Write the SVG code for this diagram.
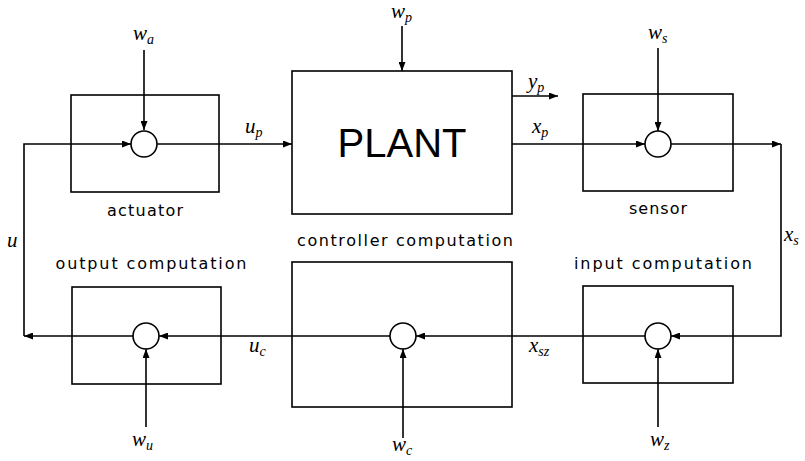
<svg xmlns="http://www.w3.org/2000/svg" width="805" height="461" viewBox="0 0 805 461">
<defs>
<marker id="ah" markerWidth="9" markerHeight="7" refX="9" refY="3.5" orient="auto" markerUnits="userSpaceOnUse">
<path d="M0,0 L9,3.5 L0,7 z" fill="#000"/>
</marker>
<style>
.box{fill:none;stroke:#000;stroke-width:1.6}
.sum{fill:#fff;stroke:#000;stroke-width:1.6}
.c{fill:none;stroke:#000;stroke-width:1.6;marker-end:url(#ah)}
.lbl{font-family:"DejaVu Sans",sans-serif;font-size:16px;fill:#000;text-anchor:middle}
.m{font-family:"Liberation Serif",serif;font-style:italic;font-size:21px;fill:#000}
.s{font-size:14px}
</style>
</defs>
<rect width="805" height="461" fill="#fff"/>
<g id="connectors">
<path class="c" d="M144,50 V130"/>
<path class="c" d="M133,336 H24"/>
<path class="c" d="M24,336 V144 H131"/>
<path class="c" d="M157,144 H292"/>
<path class="c" d="M402,26 V71"/>
<path class="c" d="M512,96 H558"/>
<path class="c" d="M512,144 H645"/>
<path class="c" d="M658,48 V131"/>
<path class="c" d="M671,144 H781"/>
<path class="c" d="M781,144 V336 H671"/>
<path class="c" d="M658,427 V349"/>
<path class="c" d="M645,336 H416"/>
<path class="c" d="M403,438 V349"/>
<path class="c" d="M390,336 H159"/>
<path class="c" d="M146,427 V349"/>
</g>
<g id="actuator">
<rect class="box" x="71" y="95" width="148" height="97"/>
<circle class="sum" cx="144" cy="144" r="13"/>
<text class="lbl" x="145" y="216" textLength="76" lengthAdjust="spacing">actuator</text>
</g>
<g id="plant">
<rect class="box" x="292" y="71" width="220" height="143"/>
<text x="402" y="157" font-family="Liberation Sans, Arial, sans-serif" font-size="40" text-anchor="middle">PLANT</text>
</g>
<g id="sensor">
<rect class="box" x="583" y="94" width="150" height="97"/>
<circle class="sum" cx="658" cy="144" r="13"/>
<text class="lbl" x="658" y="214" textLength="58" lengthAdjust="spacing">sensor</text>
</g>
<g id="output-computation">
<rect class="box" x="72" y="287" width="149" height="97"/>
<circle class="sum" cx="146" cy="336" r="13"/>
<text class="lbl" x="151" y="269" textLength="191" lengthAdjust="spacing">output computation</text>
</g>
<g id="controller-computation">
<rect class="box" x="292" y="262" width="220" height="145"/>
<circle class="sum" cx="403" cy="336" r="13"/>
<text class="lbl" x="405" y="246" textLength="216" lengthAdjust="spacing">controller computation</text>
</g>
<g id="input-computation">
<rect class="box" x="583" y="286" width="150" height="97"/>
<circle class="sum" cx="658" cy="336" r="13"/>
<text class="lbl" x="663" y="269" textLength="178" lengthAdjust="spacing">input computation</text>
</g>
<g id="labels">
<text class="m" x="133" y="40">w<tspan class="s" dy="4">a</tspan></text>
<text class="m" x="245" y="133">u<tspan class="s" dy="4">p</tspan></text>
<text class="m" x="391" y="18">w<tspan class="s" dy="4">p</tspan></text>
<text class="m" x="528" y="88">y<tspan class="s" dy="4">p</tspan></text>
<text class="m" x="532" y="133">x<tspan class="s" dy="4">p</tspan></text>
<text class="m" x="648" y="39">w<tspan class="s" dy="4">s</tspan></text>
<text class="m" x="784" y="241">x<tspan class="s" dy="4">s</tspan></text>
<text class="m" x="7" y="247">u</text>
<text class="m" x="249" y="352">u<tspan class="s" dy="4">c</tspan></text>
<text class="m" x="529" y="352">x<tspan class="s" dy="4">sz</tspan></text>
<text class="m" x="132" y="446">w<tspan class="s" dy="4">u</tspan></text>
<text class="m" x="392" y="451">w<tspan class="s" dy="4">c</tspan></text>
<text class="m" x="650" y="446">w<tspan class="s" dy="4">z</tspan></text>
</g>
</svg>
